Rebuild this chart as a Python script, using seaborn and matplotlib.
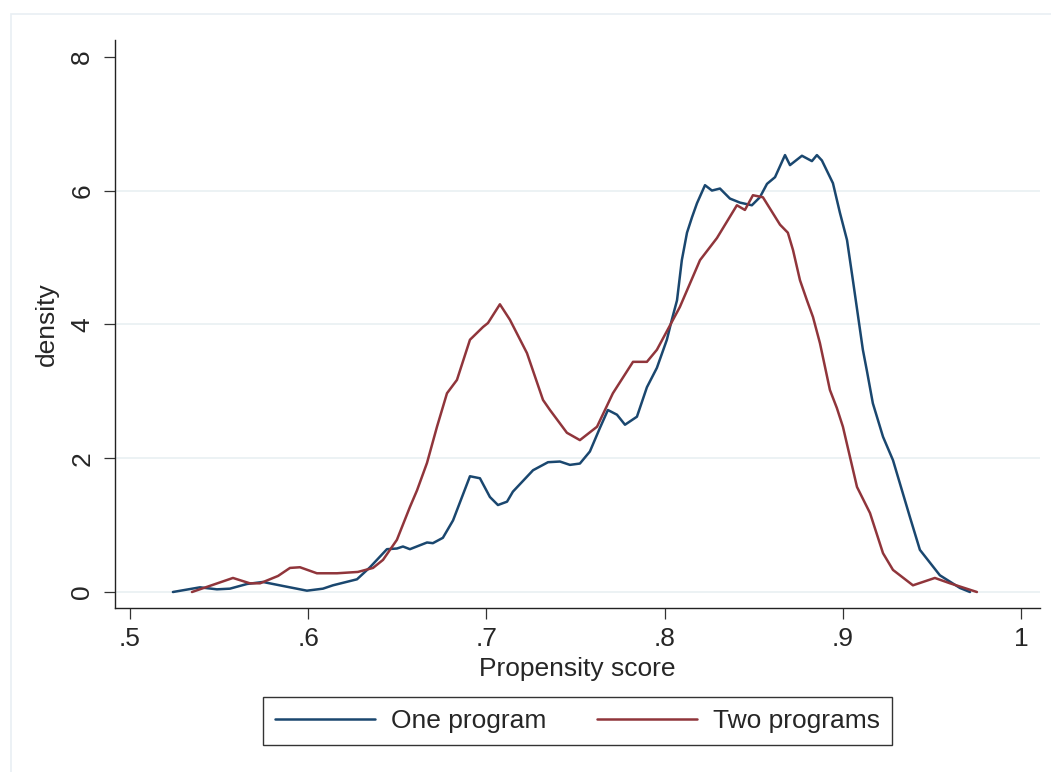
import numpy as np
import pandas as pd
import seaborn as sns
import matplotlib.pyplot as plt
from matplotlib.patches import Rectangle
from matplotlib.lines import Line2D

# kernel density curves
one_x = [0.5241, 0.5393, 0.5488, 0.5561, 0.5657, 0.5746, 0.5859, 0.5993, 0.6083, 0.6139,
         0.6274, 0.6347, 0.6442, 0.6498, 0.6532, 0.6571, 0.6667, 0.6700, 0.6756, 0.6813,
         0.6908, 0.6964, 0.7020, 0.7065, 0.7116, 0.7149, 0.7262, 0.7346, 0.7413, 0.7469,
         0.7525, 0.7581, 0.7637, 0.7682, 0.7733, 0.7778, 0.7845, 0.7901, 0.7957, 0.8013,
         0.8041, 0.8070, 0.8097, 0.8126, 0.8154, 0.8182, 0.8227, 0.8266, 0.8311, 0.8367,
         0.8423, 0.8490, 0.8535, 0.8575, 0.8620, 0.8676, 0.8704, 0.8771, 0.8827, 0.8855,
         0.8883, 0.8945, 0.8984, 0.9024, 0.9057, 0.9113, 0.9136, 0.9169, 0.9226,
         0.9282, 0.9377, 0.9433, 0.9545, 0.9658, 0.9714]
one_d = [0.00, 0.07, 0.04, 0.05, 0.12, 0.15, 0.09, 0.02, 0.05, 0.10,
         0.19, 0.37, 0.64, 0.65, 0.68, 0.64, 0.74, 0.73, 0.81, 1.07,
         1.73, 1.70, 1.42, 1.30, 1.35, 1.50, 1.82, 1.94, 1.95, 1.90,
         1.92, 2.10, 2.45, 2.72, 2.65, 2.50, 2.62, 3.06, 3.35, 3.77,
         4.07, 4.36, 4.96, 5.37, 5.60, 5.81, 6.08, 6.00, 6.03, 5.88,
         5.82, 5.78, 5.90, 6.10, 6.20, 6.53, 6.38, 6.52, 6.44, 6.53,
         6.45, 6.11, 5.67, 5.26, 4.66, 3.62, 3.30, 2.82, 2.32,
         1.97, 1.12, 0.63, 0.25, 0.06, 0.00]

two_x = [0.5348, 0.5578, 0.5673, 0.5730, 0.5831, 0.5898, 0.5954, 0.6049, 0.6162, 0.6279,
         0.6364, 0.6420, 0.6498, 0.6571, 0.6611, 0.6667, 0.6723, 0.6779, 0.6835, 0.6908,
         0.6981, 0.7009, 0.7076, 0.7132, 0.7228, 0.7318, 0.7357, 0.7452, 0.7525, 0.7621,
         0.7710, 0.7823, 0.7901, 0.7957, 0.8086, 0.8199, 0.8294, 0.8406, 0.8451, 0.8496,
         0.8552, 0.8648, 0.8692, 0.8721, 0.8760, 0.8799, 0.8833, 0.8872, 0.8928, 0.8967,
         0.9001, 0.9080, 0.9153, 0.9226, 0.9282, 0.9394, 0.9517, 0.9602, 0.9753]
two_d = [0.00, 0.21, 0.13, 0.13, 0.24, 0.36, 0.37, 0.28, 0.28, 0.30,
         0.36, 0.48, 0.78, 1.27, 1.52, 1.93, 2.47, 2.97, 3.17, 3.77,
         3.96, 4.02, 4.30, 4.07, 3.57, 2.87, 2.72, 2.38, 2.27, 2.47,
         2.97, 3.44, 3.44, 3.62, 4.26, 4.96, 5.29, 5.78, 5.71, 5.93,
         5.90, 5.49, 5.37, 5.11, 4.66, 4.36, 4.11, 3.72, 3.02, 2.75,
         2.47, 1.57, 1.18, 0.58, 0.33, 0.10, 0.21, 0.13, 0.00]

groups = ["One program", "Two programs"]
x_ticks = [0.5, 0.6, 0.7, 0.8, 0.9, 1.0]
x_tick_labels = [".5", ".6", ".7", ".8", ".9", "1"]
y_ticks = [0, 2, 4, 6, 8]

df = pd.concat([
    pd.DataFrame({"score": one_x, "density": one_d, "group": groups[0]}),
    pd.DataFrame({"score": two_x, "density": two_d, "group": groups[1]}),
], ignore_index=True)

sns.set_style("white")
plt.rcParams['font.family'] = ['Liberation Sans', 'DejaVu Sans']
colors = {"One program": "#1a476f", "Two programs": "#90353b"}

fig = plt.figure(figsize=(10.51, 7.72), dpi=100)
# light outer graph-region border
fig.patches.append(Rectangle((11 / 1051, -0.05), 1.1, 1 - 14 / 772 + 0.05, transform=fig.transFigure,
                             fill=False, edgecolor="#e9eff3", linewidth=1.2, zorder=0))
ax = fig.add_axes([115 / 1051, 1 - 608 / 772, (1040 - 115) / 1051, (608 - 40) / 772])
ax.set_facecolor("none")

for y in [0, 2, 4, 6]:
    ax.axhline(y, color="#eaf1f3", linewidth=1.3, zorder=0)

sns.lineplot(data=df, x="score", y="density", hue="group", palette=colors, sort=False,
             estimator=None, linewidth=1.8, legend=False, ax=ax)

ax.set_xlim(0.4916, 1.0107)
ax.set_ylim(-0.239, 8.25)
ax.set_xticks(x_ticks)
ax.set_xticklabels(x_tick_labels)
ax.set_yticks(y_ticks)
ax.set_yticklabels([str(v) for v in y_ticks], rotation=90, va="center")
ax.tick_params(axis="both", direction="out", length=8, width=0.9, color="#333333",
               labelsize=19, bottom=True, left=True)
ax.tick_params(axis="x", pad=6)
ax.tick_params(axis="y", pad=7)
ax.set_xlabel("Propensity score", fontsize=19, labelpad=4)
ax.set_ylabel("density", fontsize=19, labelpad=8)

for side in ["top", "right"]:
    ax.spines[side].set_visible(False)
for side in ["left", "bottom"]:
    ax.spines[side].set_color("#222222")
    ax.spines[side].set_linewidth(1.0)

handles = [Line2D([], [], color=colors[g], linewidth=1.8) for g in groups]
leg = fig.legend(handles, groups, loc="center", bbox_to_anchor=(577.5 / 1051, 1 - 721 / 772),
                 ncol=2, fontsize=19, frameon=True, fancybox=False, handlelength=3.8,
                 handletextpad=0.6, columnspacing=1.9, borderpad=0.45)
leg.get_frame().set_edgecolor("black")
leg.get_frame().set_linewidth(1.0)

fig.savefig("out.png", dpi=100)
